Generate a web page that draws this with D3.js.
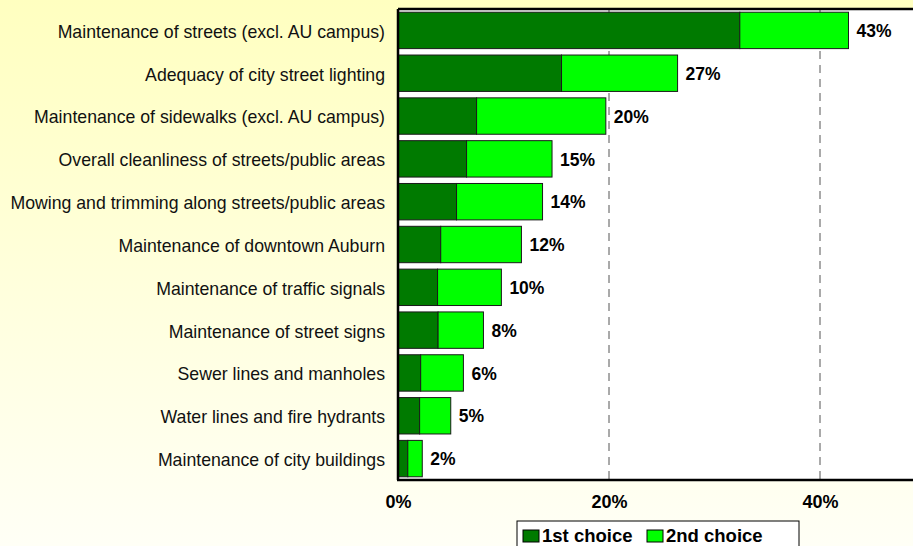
<!DOCTYPE html>
<html>
<head>
<meta charset="utf-8">
<script src="https://cdn.jsdelivr.net/npm/d3@7"></script>
<style>
  html, body { margin: 0; padding: 0; }
  body { width: 913px; height: 546px; overflow: hidden; }
  svg { display: block; font-family: "Liberation Sans", Arial, sans-serif; }
</style>
</head>
<body>
<svg id="chart" width="913" height="546"></svg>
<script>
// categories, top to bottom
const categories = [
  "Maintenance of streets (excl. AU campus)",
  "Adequacy of city street lighting",
  "Maintenance of sidewalks (excl. AU campus)",
  "Overall cleanliness of streets/public areas",
  "Mowing and trimming along streets/public areas",
  "Maintenance of downtown Auburn",
  "Maintenance of traffic signals",
  "Maintenance of street signs",
  "Sewer lines and manholes",
  "Water lines and fire hydrants",
  "Maintenance of city buildings"
];
// percentages
const firstChoice = [32.4, 15.5, 7.45, 6.5, 5.55, 4.05, 3.75, 3.8, 2.15, 2.05, 0.93];
const secondChoice = [10.3, 11.0, 12.25, 8.1, 8.15, 7.65, 6.05, 4.3, 4.05, 2.95, 1.37];
const totalLabels = ["43%", "27%", "20%", "15%", "14%", "12%", "10%", "8%", "6%", "5%", "2%"];
const tickValues = [0, 20, 40];
const seriesNames = ["1st choice", "2nd choice"];
const seriesColors = ["#007a00", "#00ff00"];

const svg = d3.select("#chart");
const W = 913, H = 546;

// background gradient
const defs = svg.append("defs");
const grad = defs.append("linearGradient")
  .attr("id", "bg").attr("x1", 0).attr("y1", 0).attr("x2", 0).attr("y2", 1);
grad.append("stop").attr("offset", "0%").attr("stop-color", "#ffffc0");
grad.append("stop").attr("offset", "100%").attr("stop-color", "#fffff6");
svg.append("rect").attr("width", W).attr("height", H).attr("fill", "url(#bg)");

const plot = { left: 398, top: 9, bottom: 480 };
const x = d3.scaleLinear().domain([0, 50]).range([plot.left, plot.left + 50 * 10.55]);
const y = d3.scaleBand()
  .domain(categories)
  .range([plot.top, plot.bottom])
  .paddingInner(0.15)
  .paddingOuter(0.075);

// plot area
svg.append("rect")
  .attr("x", plot.left).attr("y", plot.top)
  .attr("width", x(50) - plot.left).attr("height", plot.bottom - plot.top)
  .attr("fill", "#ffffff");

// dashed gridlines
svg.append("g")
  .selectAll("line")
  .data(tickValues.filter(d => d > 0))
  .join("line")
  .attr("x1", d => x(d)).attr("x2", d => x(d))
  .attr("y1", plot.top).attr("y2", plot.bottom)
  .attr("stroke", "#555")
  .attr("stroke-width", 1)
  .attr("stroke-dasharray", "8,6");

// stacked bars
const rows = categories.map((c, i) => ({ cat: c, a: firstChoice[i], b: secondChoice[i], label: totalLabels[i] }));
const bars = svg.append("g");
bars.selectAll("rect.first")
  .data(rows)
  .join("rect")
  .attr("class", "first")
  .attr("x", x(0))
  .attr("y", d => y(d.cat))
  .attr("width", d => x(d.a) - x(0))
  .attr("height", y.bandwidth())
  .attr("fill", seriesColors[0])
  .attr("stroke", "#1a1a1a")
  .attr("stroke-width", 1);
bars.selectAll("rect.second")
  .data(rows)
  .join("rect")
  .attr("class", "second")
  .attr("x", d => x(d.a))
  .attr("y", d => y(d.cat))
  .attr("width", d => x(d.a + d.b) - x(d.a))
  .attr("height", y.bandwidth())
  .attr("fill", seriesColors[1])
  .attr("stroke", "#1a1a1a")
  .attr("stroke-width", 1);

// total labels
svg.append("g")
  .selectAll("text")
  .data(rows)
  .join("text")
  .attr("x", d => x(d.a + d.b) + 8)
  .attr("y", d => y(d.cat) + y.bandwidth() / 2)
  .attr("dy", "0.38em")
  .attr("font-size", 17.5)
  .attr("font-weight", "bold")
  .attr("fill", "#000")
  .text(d => d.label);

// plot frame: left, top, bottom
const frame = svg.append("g").attr("stroke", "#000").attr("stroke-width", 2.5);
frame.append("line").attr("x1", plot.left).attr("x2", plot.left).attr("y1", plot.top).attr("y2", plot.bottom);
frame.append("line").attr("x1", plot.left).attr("x2", W + 5).attr("y1", plot.top).attr("y2", plot.top);
frame.append("line").attr("x1", plot.left - 1).attr("x2", W + 5).attr("y1", plot.bottom).attr("y2", plot.bottom);

// category labels
const yAxis = svg.append("g")
  .attr("transform", `translate(${plot.left - 13},0)`)
  .call(d3.axisLeft(y).tickSize(0).tickPadding(0));
yAxis.select(".domain").remove();
yAxis.selectAll("text")
  .attr("font-size", 17.7)
  .attr("font-family", "'Liberation Sans', Arial, sans-serif")
  .attr("fill", "#111")
  .attr("dy", "0.42em");

// x tick labels
const xAxis = svg.append("g")
  .attr("transform", `translate(0,${plot.bottom})`)
  .call(d3.axisBottom(x).tickValues(tickValues).tickSize(0).tickPadding(15).tickFormat(d => d + "%"));
xAxis.select(".domain").remove();
xAxis.selectAll("text")
  .attr("font-size", 18)
  .attr("font-weight", "bold")
  .attr("font-family", "'Liberation Sans', Arial, sans-serif")
  .attr("fill", "#000");

// legend
const legend = svg.append("g").attr("transform", "translate(517,521)");
legend.append("rect")
  .attr("width", 282).attr("height", 40)
  .attr("fill", "#fff").attr("stroke", "#000").attr("stroke-width", 1);
const legendX = [6, 130];
seriesNames.forEach((name, i) => {
  const g = legend.append("g").attr("transform", `translate(${legendX[i]},9)`);
  g.append("rect")
    .attr("width", 16).attr("height", 12)
    .attr("fill", seriesColors[i]).attr("stroke", "#000").attr("stroke-width", 1);
  g.append("text")
    .attr("x", 19).attr("y", 12)
    .attr("font-size", 18.5).attr("font-weight", "bold").attr("fill", "#000")
    .text(name);
});
</script>
</body>
</html>
